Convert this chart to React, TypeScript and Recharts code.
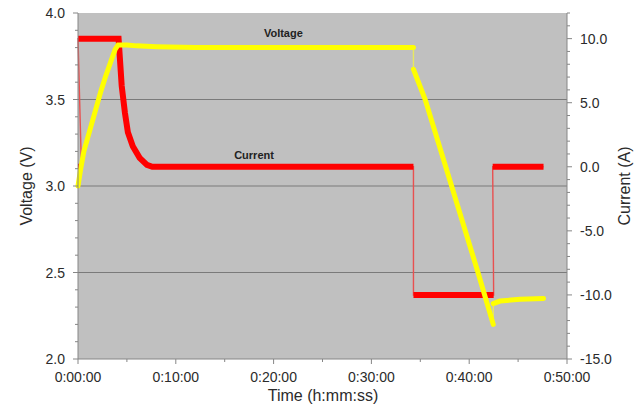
import { ComposedChart, Line, XAxis, YAxis, CartesianGrid, ReferenceLine, ReferenceDot } from 'recharts';

// time in minutes
const chargeTime = [0, 0.25, 0.6, 1.2, 1.8, 2.3, 2.8, 3.3, 3.8, 4.1, 5, 6, 8, 12, 20, 28, 34.3];
const chargeVoltage = [3.0, 3.09, 3.2, 3.32, 3.44, 3.54, 3.63, 3.71, 3.79, 3.815, 3.815, 3.81, 3.805, 3.8, 3.8, 3.8, 3.8];
const dischargeTime = [34.3, 35.5, 38.2, 40.9, 42.46];
const dischargeVoltage = [3.675, 3.5, 3.0, 2.5, 2.2];
const restTime = [42.46, 43.15, 45.2, 47.6];
const restVoltage = [2.32, 2.335, 2.345, 2.35];

const startTime = [0, 0.35];
const startCurrent = [0, 0];
const cccvTime = [0, 4.15, 4.47, 4.8, 5.1, 5.6, 6.3, 7.05, 7.6, 12, 20, 34.3];
const cccvCurrent = [10, 10, 6.3, 4.2, 2.7, 1.6, 0.7, 0.15, 0, 0, 0, 0];
const dischargeCurrentTime = [34.3, 42.5];
const dischargeCurrent = [-10, -10];
const restCurrentTime = [42.4, 47.6];
const restCurrent = [0, 0];

const timeTicks = [0, 10, 20, 30, 40, 50];
const timeMinor = [5, 15, 25, 35, 45];
const voltageTicks = [2.0, 2.5, 3.0, 3.5, 4.0];
const currentTicks = [-15, -10, -5, 0, 5, 10];
const voltageGrid = [2.5, 3.0, 3.5];

type Pt = { t: number; y: number | null };

const seg = (time: number[], vals: number[]): Pt[] => time.map((t, i) => ({ t, y: vals[i] }));
const joined = (segs: Pt[][]) => segs.flat();
const broken = (segs: Pt[][]) =>
  segs.flatMap((s, i) => (i === 0 ? s : [{ t: s[0].t, y: null }, ...s]));

const voltageSegs = [
  seg(chargeTime, chargeVoltage),
  seg(dischargeTime, dischargeVoltage),
  seg(restTime, restVoltage),
];
const currentSegs = [
  seg(startTime, startCurrent),
  seg(cccvTime, cccvCurrent),
  seg(dischargeCurrentTime, dischargeCurrent),
  seg(restCurrentTime, restCurrent),
];

const FONT = 'Liberation Sans, Arial, sans-serif';
const AXIS = '#868686';
const TXT = '#2b2b2b';

const fmtTime = (m: number) => {
  const h = Math.floor(m / 60);
  const mm = String(m % 60).padStart(2, '0');
  return `${h}:${mm}:00`;
};

const near = (v: number, list: number[]) => list.some((x) => Math.abs(x - v) < 1e-6);

function LeftTick({ x, y, payload }: any) {
  const major = near(payload.value, voltageTicks);
  return (
    <g>
      <line x1={x} x2={x - (major ? 5 : 3)} y1={y} y2={y} stroke={AXIS} />
      {major && (
        <text x={x - 13} y={y + 5} textAnchor="end" fontSize={14} fontFamily={FONT} fill={TXT}>
          {payload.value.toFixed(1)}
        </text>
      )}
    </g>
  );
}

function RightTick({ x, y, payload }: any) {
  const major = near(payload.value, currentTicks);
  return (
    <g>
      <line x1={x} x2={x + (major ? 5 : 3)} y1={y} y2={y} stroke={AXIS} />
      {major && (
        <text x={x + 13} y={y + 5} textAnchor="start" fontSize={14} fontFamily={FONT} fill={TXT}>
          {payload.value.toFixed(1)}
        </text>
      )}
    </g>
  );
}

function BottomTick({ x, y, payload }: any) {
  const major = near(payload.value, timeTicks);
  return (
    <g>
      <line x1={x} x2={x} y1={y} y2={y + (major ? 5 : 3)} stroke={AXIS} />
      {major && (
        <text x={x} y={y + 23} textAnchor="middle" fontSize={14} fontFamily={FONT} fill={TXT}>
          {fmtTime(payload.value)}
        </text>
      )}
    </g>
  );
}

const vAll = Array.from({ length: 21 }, (_, i) => +(2 + i * 0.1).toFixed(1));
const aAll = Array.from({ length: 28 }, (_, i) => -15 + i);
const tAll = [...timeTicks, ...timeMinor].sort((a, b) => a - b);

export default function App() {
  return (
    <div style={{ position: 'absolute', left: 0, top: 0, background: '#fff' }}>
      <ComposedChart width={640} height={408} margin={{ top: 13, right: 0, bottom: 0, left: 0 }}>
        <CartesianGrid yAxisId="v" horizontal={false} vertical={false} fill="#c0c0c0" />
        <XAxis
          dataKey="t"
          type="number"
          domain={[0, 50]}
          ticks={tAll}
          interval={0}
          height={49}
          tickSize={0}
          tickMargin={0}
          tickLine={false}
          axisLine={{ stroke: AXIS }}
          tick={<BottomTick />}
          allowDuplicatedCategory={false}
        />
        <YAxis
          yAxisId="v"
          orientation="left"
          type="number"
          domain={[2, 4]}
          ticks={vAll}
          interval={0}
          width={78}
          tickSize={0}
          tickMargin={0}
          tickLine={false}
          axisLine={{ stroke: AXIS }}
          tick={<LeftTick />}
        />
        <YAxis
          yAxisId="a"
          orientation="right"
          type="number"
          domain={[-15, 12]}
          ticks={aAll}
          interval={0}
          width={73}
          tickSize={0}
          tickMargin={0}
          tickLine={false}
          axisLine={{ stroke: AXIS }}
          tick={<RightTick />}
        />
        {voltageGrid.map((g) => (
          <ReferenceLine key={g} yAxisId="v" y={g} stroke="#7a7a7a" strokeWidth={1} />
        ))}
        <Line
          yAxisId="a"
          data={joined(currentSegs)}
          dataKey="y"
          type="linear"
          stroke="#e85050"
          strokeWidth={1.4}
          dot={false}
          isAnimationActive={false}
        />
        <Line
          yAxisId="a"
          data={broken(currentSegs)}
          dataKey="y"
          type="linear"
          stroke="#ff0000"
          strokeWidth={6}
          dot={false}
          connectNulls={false}
          isAnimationActive={false}
        />
        <Line
          yAxisId="v"
          data={joined(voltageSegs)}
          dataKey="y"
          type="linear"
          stroke="#e8e860"
          strokeWidth={1.4}
          dot={false}
          isAnimationActive={false}
        />
        <Line
          yAxisId="v"
          data={broken(voltageSegs)}
          dataKey="y"
          type="linear"
          stroke="#ffff00"
          strokeWidth={5}
          strokeLinecap="round"
          dot={false}
          connectNulls={false}
          isAnimationActive={false}
        />
        <ReferenceDot
          yAxisId="v"
          x={21}
          y={3.884}
          r={0}
          fill="none"
          stroke="none"
          label={{ value: 'Voltage', position: 'center', fontSize: 11, fontWeight: 'bold', fontFamily: FONT, fill: '#222' }}
        />
        <ReferenceDot
          yAxisId="a"
          x={18}
          y={0.94}
          r={0}
          fill="none"
          stroke="none"
          label={{ value: 'Current', position: 'center', fontSize: 11, fontWeight: 'bold', fontFamily: FONT, fill: '#222' }}
        />
        <text x={32} y={186} transform="rotate(-90 32 186)" textAnchor="middle" fontSize={16} fontFamily={FONT} fill={TXT}>
          Voltage (V)
        </text>
        <text x={630} y={186} transform="rotate(-90 630 186)" textAnchor="middle" fontSize={16} fontFamily={FONT} fill={TXT}>
          Current (A)
        </text>
        <text x={323} y={401} textAnchor="middle" fontSize={16} fontFamily={FONT} fill={TXT}>
          Time (h:mm:ss)
        </text>
      </ComposedChart>
    </div>
  );
}
